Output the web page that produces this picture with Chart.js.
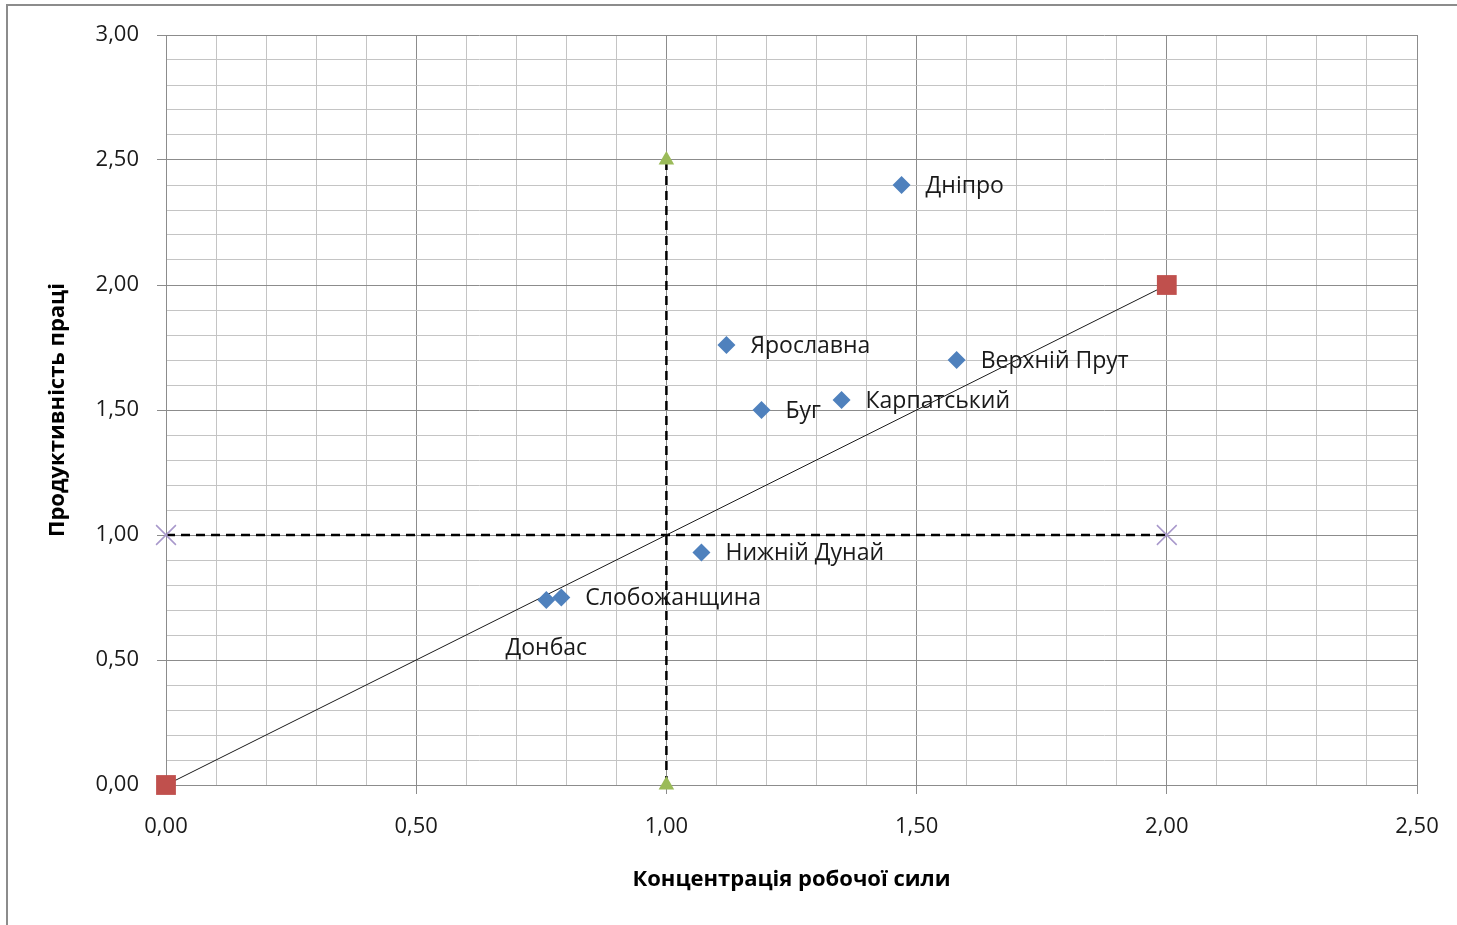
<!DOCTYPE html>
<html>
<head>
<meta charset="utf-8">
<script src="https://cdn.jsdelivr.net/npm/chart.js@4.4.0/dist/chart.umd.min.js"></script>
<style>
    html, body { margin: 0; padding: 0; background: #fff; }
    #frame { position: absolute; left: 6px; top: 4px; width: 1460px; height: 930px;
             border-left: 2px solid #8c8c8c; border-top: 2px solid #8c8c8c; }
    #wrap { position: absolute; left: 0; top: 0; width: 1457px; height: 925px; }
</style>
</head>
<body>
<div id="frame"></div>
<div id="wrap"><canvas id="quadChart" width="1457" height="925"></canvas></div>
<script>
// regions (concentration of labour force vs labour productivity)
const regions = ['Дніпро', 'Ярославна', 'Верхній Прут', 'Буг', 'Карпатський', 'Нижній Дунай', 'Слобожанщина', 'Донбас'];
const concentration = [1.47, 1.12, 1.58, 1.19, 1.35, 1.07, 0.79, 0.76];
const productivity = [2.40, 1.76, 1.70, 1.50, 1.54, 0.93, 0.75, 0.74];
// where each label goes relative to its point
const labelSide = ['right', 'right', 'right', 'right', 'right', 'right', 'right', 'below'];

// helper lines
const diagX = [0, 2];
const diagY = [0, 2];
const vertX = [1, 1];
const vertY = [0, 2.5];
const horizX = [0, 2];
const horizY = [1, 1];

const xMin = 0, xMax = 2.5, yMin = 0, yMax = 3;

function toPoints(xs, ys) {
    var pts = [];
    for (var i = 0; i < xs.length; i++) {
        pts.push({ x: xs[i], y: ys[i] });
    }
    return pts;
}

function fmt(v) {
    return v.toFixed(2).replace('.', ',');
}

function isMajor(v) {
    return Math.round(v * 10) % 5 === 0;
}

// simple data labels, drawn next to the blue diamonds
const pointLabels = {
    id: 'pointLabels',
    afterDatasetsDraw(chart) {
        var ctx = chart.ctx;
        var meta = chart.getDatasetMeta(0);
        ctx.save();
        ctx.font = '23px "Open Sans"';
        ctx.fillStyle = '#1a1a1a';
        ctx.textBaseline = 'middle';
        meta.data.forEach(function (el, i) {
            if (labelSide[i] === 'below') {
                ctx.textAlign = 'center';
                ctx.fillText(regions[i], el.x, el.y + 48);
            } else {
                ctx.textAlign = 'left';
                ctx.fillText(regions[i], el.x + 24, el.y + 1);
            }
        });
        ctx.restore();
    }
};

var ctx = document.getElementById('quadChart');
var quadChart = new Chart(ctx, {
    type: 'scatter',
    data: {
        datasets: [{
            label: 'Регіони',
            data: toPoints(concentration, productivity),
            pointStyle: 'rectRot',
            pointRadius: 9,
            pointHoverRadius: 9,
            backgroundColor: '#4F81BD',
            borderColor: '#4F81BD',
            borderWidth: 0,
            clip: false
        }, {
            label: 'diag',
            data: toPoints(diagX, diagY),
            showLine: true,
            borderColor: '#1a1a1a',
            borderWidth: 1,
            pointStyle: 'rect',
            pointRadius: 14,
            pointHoverRadius: 14,
            pointBackgroundColor: '#C0504D',
            pointBorderColor: '#C0504D',
            pointBorderWidth: 0,
            clip: false
        }, {
            label: 'vert',
            data: toPoints(vertX, vertY),
            showLine: true,
            borderColor: '#000',
            borderWidth: 2.5,
            borderDash: [9, 6],
            pointStyle: 'triangle',
            pointRadius: 9,
            pointHoverRadius: 9,
            pointBackgroundColor: '#9BBB59',
            pointBorderColor: '#9BBB59',
            pointBorderWidth: 0,
            clip: false
        }, {
            label: 'horiz',
            data: toPoints(horizX, horizY),
            showLine: true,
            borderColor: '#000',
            borderWidth: 2.5,
            borderDash: [9, 6],
            pointStyle: 'crossRot',
            pointRadius: 14,
            pointHoverRadius: 14,
            pointBorderColor: '#A898CB',
            pointBorderWidth: 1.5,
            clip: false
        }]
    },
    options: {
        responsive: false,
        animation: false,
        events: [],
        layout: { padding: { left: 0, top: 35, right: 40, bottom: 0 } },
        plugins: {
            legend: { display: false },
            tooltip: { enabled: false }
        },
        scales: {
            x: {
                type: 'linear',
                min: xMin,
                max: xMax,
                afterFit: function (scale) {
                    scale.height = 140;
                    scale.paddingRight = 20;
                },
                ticks: {
                    stepSize: 0.1,
                    autoSkip: false,
                    maxRotation: 0,
                    padding: 20,
                    color: '#1a1a1a',
                    font: { family: 'Open Sans', size: 22 },
                    callback: function (v) { return isMajor(v) ? fmt(v) : ''; }
                },
                grid: {
                    color: function (c) { return isMajor(c.tick.value) ? '#8c8c8c' : '#c4c4c4'; },
                    tickColor: function (c) { return isMajor(c.tick.value) ? '#8c8c8c' : 'rgba(0,0,0,0)'; },
                    tickLength: 9,
                    lineWidth: 1
                },
                border: { color: '#8c8c8c', width: 1 },
                title: {
                    display: true,
                    text: 'Концентрація робочої сили',
                    color: '#000',
                    font: { family: 'Open Sans', size: 22, weight: 'bold' },
                    padding: { top: 0, bottom: 32 }
                }
            },
            y: {
                type: 'linear',
                min: yMin,
                max: yMax,
                afterFit: function (scale) { scale.width = 166; },
                ticks: {
                    stepSize: 0.1,
                    autoSkip: false,
                    padding: 18,
                    color: '#1a1a1a',
                    font: { family: 'Open Sans', size: 22 },
                    callback: function (v) { return isMajor(v) ? fmt(v) : ''; }
                },
                grid: {
                    color: function (c) { return isMajor(c.tick.value) ? '#8c8c8c' : '#c4c4c4'; },
                    tickColor: function (c) { return isMajor(c.tick.value) ? '#8c8c8c' : 'rgba(0,0,0,0)'; },
                    tickLength: 9,
                    lineWidth: 1
                },
                border: { color: '#8c8c8c', width: 1 },
                title: {
                    display: true,
                    text: 'Продуктивність праці',
                    color: '#000',
                    font: { family: 'Open Sans', size: 22, weight: 'bold' },
                    padding: { top: 45, bottom: 0 }
                }
            }
        }
    },
    plugins: [pointLabels]
});
</script>
</body>
</html>
